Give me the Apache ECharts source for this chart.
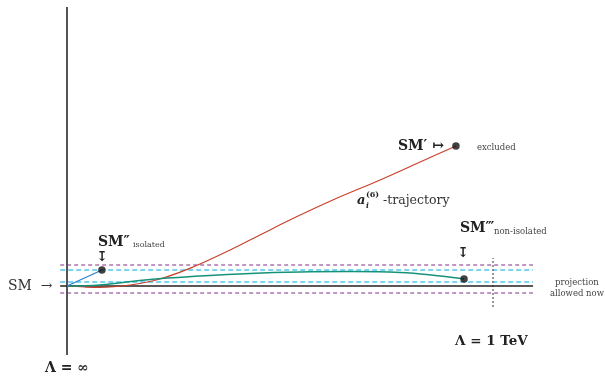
<!DOCTYPE html>
<html><head><meta charset="utf-8">
<script src="https://cdn.jsdelivr.net/npm/echarts@6/dist/echarts.min.js"></script>
<style>html,body{margin:0;padding:0;background:#fff}#c{width:605px;height:376px}</style>
</head><body><div id="c"></div>
<script>
// x: 0 = (Lambda = infinity), 1 = (Lambda = 1 TeV); y: deviation from SM (arbitrary units)
var redX  = [0, 0.042, 0.077, 0.148, 0.218, 0.296, 0.383, 0.453, 0.523, 0.624, 0.735, 0.829, 0.913];
var redY  = [0, -0.05, -0.07, 0.05, 0.35, 0.95, 1.8, 2.55, 3.3, 4.3, 5.3, 6.2, 7.0];
var tealX = [0, 0.077, 0.195, 0.312, 0.430, 0.547, 0.664, 0.782, 0.876, 0.932];
var tealY = [0, 0.05, 0.33, 0.5, 0.63, 0.7, 0.72, 0.68, 0.5, 0.35];
var blueX = [0, 0.082];
var blueY = [0, 0.8];
var pointsX = [0.913, 0.082, 0.932];   // SM', SM'', SM'''
var pointsY = [7.0, 0.8, 0.35];
var smLevel = 0;
var purpleBand = [1.05, -0.35];
var cyanBand = [0.8, 0.2];
var bandX = [-0.016, 1.094];
var axisSpan = [-3.45, 13.95];
var tevSpan = [-1.05, 1.4];
var tevX = 1;

function pairs(xs, ys){ return xs.map(function(x,i){ return [x, ys[i]]; }); }
function hline(y){ return [[bandX[0], y],[bandX[1], y]]; }

var chart = echarts.init(document.getElementById('c'), null, {renderer:'canvas'});
var serif = '"DejaVu Serif", serif';
var series = [];
series.push({type:'line', data:[[0,axisSpan[0]],[0,axisSpan[1]]], symbol:'none', lineStyle:{color:'#555', width:2}, silent:true, z:1});
purpleBand.forEach(function(y){ series.push({type:'line', data:hline(y), symbol:'none', lineStyle:{color:'#7e3088', width:1, type:[4,3]}, z:2}); });
cyanBand.forEach(function(y){ series.push({type:'line', data:hline(y), symbol:'none', lineStyle:{color:'#7dd4f2', width:2, type:[5,3]}, z:2}); });
series.push({type:'line', data:hline(smLevel), symbol:'none', lineStyle:{color:'#222', width:1.5}, z:3});
series.push({type:'line', data:[[tevX,tevSpan[0]],[tevX,tevSpan[1]]], symbol:'none', lineStyle:{color:'#777', width:1.5, type:[2,2]}, z:2});
series.push({type:'line', data:pairs(redX, redY), smooth:0.4, symbol:'none', lineStyle:{color:'#c9402a', width:1.2}, z:4});
series.push({type:'line', data:pairs(tealX, tealY), smooth:0.4, symbol:'none', lineStyle:{color:'#16917a', width:1.5}, z:4});
series.push({type:'line', data:pairs(blueX, blueY), symbol:'none', lineStyle:{color:'#2a80c8', width:1.2}, z:4});
series.push({type:'scatter', data:pairs(pointsX, pointsY), symbolSize:7.5, itemStyle:{color:'#111'}, z:5});

function t(x, y, text, size, weight, extra){
  var s = {text:text, x:x, y:y, font:(extra&&extra.italic?'italic ':'') + (weight||'normal') + ' ' + size + 'px ' + serif,
    fill:(extra&&extra.fill)||'#222', verticalAlign:'middle', align:(extra&&extra.align)||'left'};
  return {type:'text', style:s, z:10};
}
var graphics = [
  t(8, 286, 'SM  \u2192', 14, 'normal', {fill:'#333'}),
  t(98, 242, 'SM\u2033', 14, 'bold'),
  t(133, 245, 'isolated', 8, 'normal', {fill:'#444'}),
  t(102, 257, '\u21A7', 14, 'bold', {align:'center'}),
  t(398, 146, 'SM\u2032 \u21A6', 14, 'bold'),
  t(477, 148, 'excluded', 8.5, 'normal', {fill:'#444'}),
  t(357, 201, 'a', 13, 'bold', {italic:true}),
  t(366, 195, '(6)', 8, 'bold'),
  t(366, 206, 'i', 7.5, 'bold', {italic:true}),
  t(383, 201, '-trajectory', 12.5, 'normal', {fill:'#333'}),
  t(460, 228, 'SM\u2034', 14, 'bold'),
  t(494, 232, 'non-isolated', 8.5, 'normal', {fill:'#444'}),
  t(463, 253, '\u21A7', 14, 'bold', {align:'center'}),
  t(555, 283, 'projection', 8.5, 'normal', {fill:'#444'}),
  t(550, 294, 'allowed now', 8.5, 'normal', {fill:'#444'}),
  t(67, 368, '\u039B = \u221E', 14, 'bold', {align:'center'}),
  t(455, 341, '\u039B = 1 TeV', 13.5, 'bold')
];

chart.setOption({
  animation:false,
  grid:{left:0, right:0, top:0, bottom:0},
  xAxis:{type:'value', min:-67/426, max:538/426, show:false},
  yAxis:{type:'value', min:-4.5, max:14.3, show:false},
  series:series,
  graphic:graphics
});
</script></body></html>
